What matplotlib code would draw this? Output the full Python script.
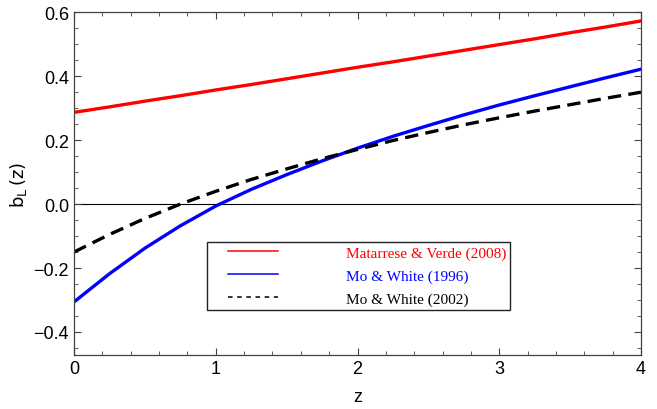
import matplotlib
matplotlib.use("Agg")
import matplotlib.pyplot as plt
from matplotlib.lines import Line2D
from matplotlib.legend_handler import HandlerLine2D
from matplotlib.ticker import MultipleLocator

# values
z = [0.0, 0.25, 0.5, 0.75, 1.0, 1.25, 1.5, 1.75, 2.0, 2.25, 2.5, 2.75, 3.0, 3.25, 3.5, 3.75, 4.0]
b_mv08 = [0.287, 0.304, 0.322, 0.339, 0.357, 0.374, 0.392, 0.410, 0.428, 0.445, 0.463, 0.481, 0.499, 0.517, 0.536, 0.554, 0.573]
b_mw96 = [-0.306, -0.218, -0.138, -0.068, -0.006, 0.046, 0.092, 0.135, 0.175, 0.212, 0.246, 0.279, 0.310, 0.339, 0.367, 0.395, 0.422]
b_mw02 = [-0.150, -0.095, -0.045, 0.000, 0.040, 0.077, 0.110, 0.142, 0.171, 0.199, 0.224, 0.248, 0.270, 0.291, 0.311, 0.331, 0.350]
labels = ["Matarrese & Verde (2008)", "Mo & White (1996)", "Mo & White (2002)"]
colors = ["#ff0000", "#0000ff", "black"]

plt.rcParams['font.family'] = ['Liberation Sans', 'DejaVu Sans']

fig = plt.figure(figsize=(6.57, 4.10), dpi=100)
ax = fig.add_axes([0.1126, 0.1317, 0.8631, 0.8359])

ax.axhline(0, color="black", lw=0.8, zorder=1)
ax.plot(z, b_mv08, color=colors[0], lw=2.4)
ax.plot(z, b_mw96, color=colors[1], lw=2.4)
ax.plot(z, b_mw02, color=colors[2], lw=2.4, dashes=(4, 2.2))

ax.set_xlim(0, 4)
ax.set_ylim(-0.472, 0.6)
ax.xaxis.set_major_locator(MultipleLocator(1))
ax.xaxis.set_minor_locator(MultipleLocator(0.2))
ax.yaxis.set_minor_locator(MultipleLocator(0.05))
ax.set_yticks([-0.4, -0.2, 0.0, 0.2, 0.4, 0.6])
ax.set_yticklabels(["\u22120.4", "\u22120.2", "0.0", "0.2", "0.4", "0.6"])
ax.tick_params(which="both", direction="in", top=True, right=True, color="#444444", labelsize=13)
ax.tick_params(which="major", length=5, width=0.8)
ax.tick_params(which="minor", length=2.8, width=0.6)
for s in ax.spines.values():
	s.set_color("#444444")
	s.set_linewidth(0.9)

ax.set_xlabel("z", fontsize=13, labelpad=8)
ax.set_ylabel(r"$\mathrm{b_L}\,(\mathrm{z})$", fontsize=13, labelpad=3)

handles = [Line2D([], [], color=colors[0], lw=1.1),
	Line2D([], [], color=colors[1], lw=1.1),
	Line2D([], [], color=colors[2], lw=1.1, dashes=(3, 3))]
hmap = {h: HandlerLine2D(xpad=1.1) for h in handles}
leg = ax.legend(handles, labels, loc="upper left", bbox_to_anchor=(0.2346, 0.329),
	borderaxespad=0, handlelength=4.4, handletextpad=4.45, borderpad=0.25, labelspacing=0.6,
	handler_map=hmap, fancybox=False, framealpha=1, edgecolor="#222222",
	prop={"family": ["Liberation Serif"], "size": 11})
leg.get_frame().set_linewidth(1.0)
for t, c in zip(leg.get_texts(), colors):
	t.set_color(c)

fig.savefig("out.png", dpi=100)
